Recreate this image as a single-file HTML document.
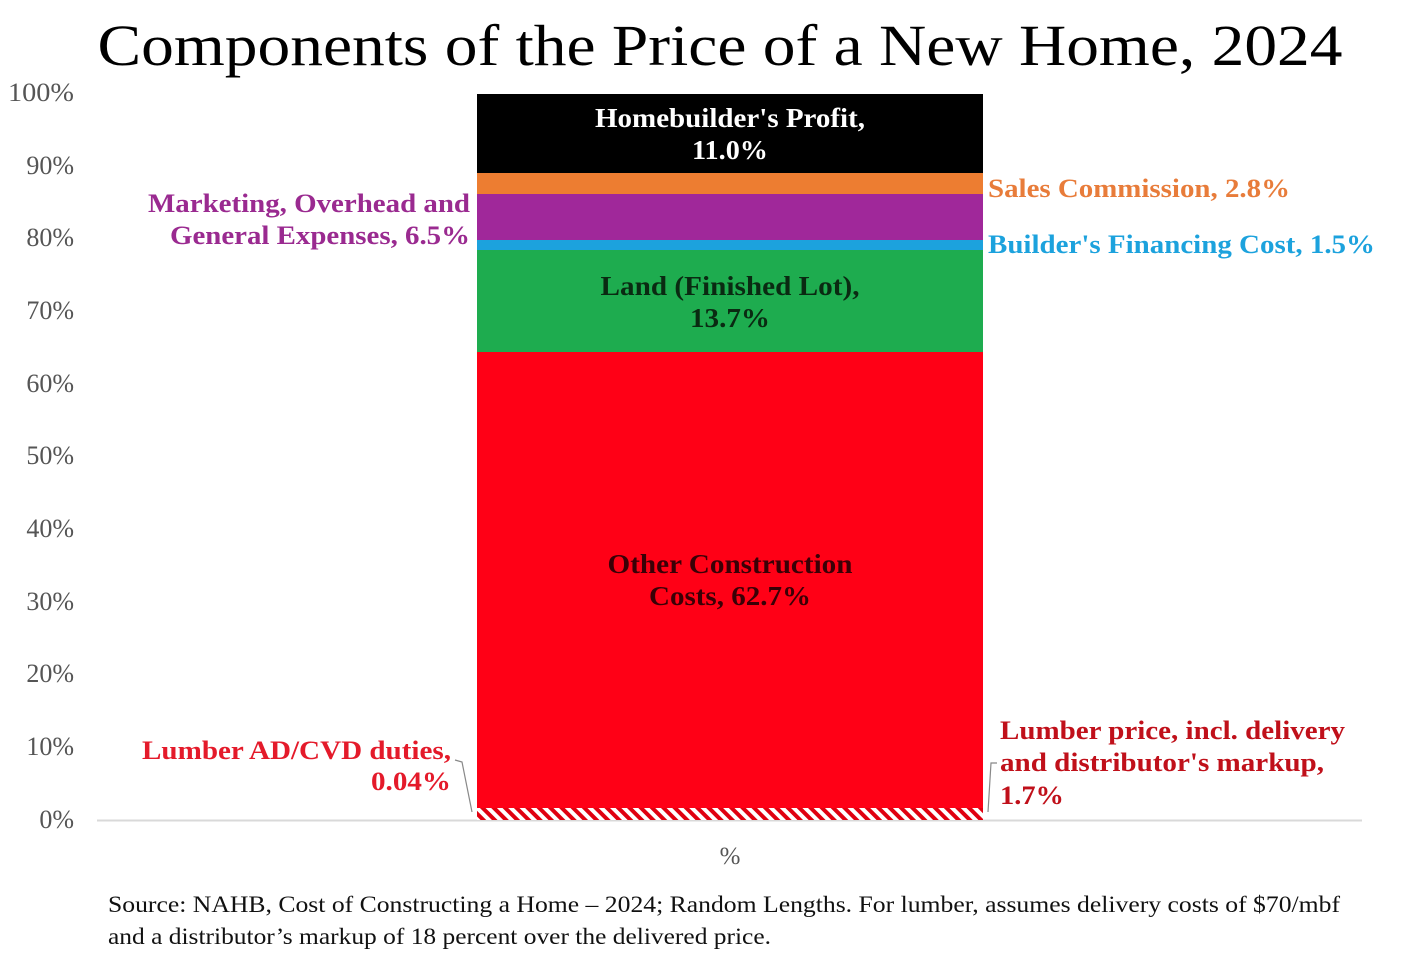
<!DOCTYPE html>
<html><head><meta charset="utf-8"><style>html,body{margin:0;padding:0;background:#fff}</style></head>
<body>
<svg width="1423" height="965" viewBox="0 0 1423 965" xmlns="http://www.w3.org/2000/svg" font-family="'Liberation Serif', serif">
<defs>
<pattern id="h" width="8" height="8" patternUnits="userSpaceOnUse" patternTransform="rotate(-45)">
<rect width="8" height="8" fill="#fff"/><rect width="4" height="8" fill="#e00010"/></pattern>
</defs>
<text x="720" y="65" font-size="58" text-anchor="middle" textLength="1245" lengthAdjust="spacingAndGlyphs" fill="#000">Components of the Price of a New Home, 2024</text>
<g font-size="26" fill="#555" text-anchor="end">
<text x="74" y="101" textLength="66" lengthAdjust="spacingAndGlyphs">100%</text><text x="74" y="174">90%</text><text x="74" y="246">80%</text>
<text x="74" y="319">70%</text><text x="74" y="392">60%</text><text x="74" y="464">50%</text>
<text x="74" y="537">40%</text><text x="74" y="610">30%</text><text x="74" y="682">20%</text>
<text x="74" y="755">10%</text><text x="74" y="828">0%</text>
</g>
<line x1="97" y1="820.5" x2="1362" y2="820.5" stroke="#d9d9d9" stroke-width="2"/>
<rect x="477" y="94" width="506" height="79" fill="#000"/>
<rect x="477" y="173" width="506" height="21" fill="#ed7d31"/>
<rect x="477" y="194" width="506" height="46" fill="#a0289a"/>
<rect x="477" y="240" width="506" height="10" fill="#1ca2dd"/>
<rect x="477" y="250" width="506" height="102" fill="#1eac4f"/>
<rect x="477" y="352" width="506" height="456" fill="#ff0016"/>
<rect x="477" y="808" width="506" height="12" fill="url(#h)"/>
<g font-weight="bold" font-size="27" text-anchor="middle" lengthAdjust="spacingAndGlyphs">
<text x="730" y="127" fill="#fff" textLength="270" lengthAdjust="spacingAndGlyphs">Homebuilder's Profit,</text>
<text x="730" y="159" fill="#fff" textLength="76" lengthAdjust="spacingAndGlyphs">11.0%</text>
<text x="730" y="295" fill="#0a2a12" textLength="259" lengthAdjust="spacingAndGlyphs">Land (Finished Lot),</text>
<text x="730" y="327" fill="#0a2a12" textLength="80" lengthAdjust="spacingAndGlyphs">13.7%</text>
<text x="730" y="573" fill="#3a0006" textLength="245" lengthAdjust="spacingAndGlyphs">Other Construction</text>
<text x="730" y="605" fill="#3a0006" textLength="162" lengthAdjust="spacingAndGlyphs">Costs, 62.7%</text>
</g>
<g font-weight="bold" font-size="26">
<text x="470" y="212" text-anchor="end" fill="#9a2a90" textLength="322" lengthAdjust="spacingAndGlyphs">Marketing, Overhead and</text>
<text x="470" y="244" text-anchor="end" fill="#9a2a90" textLength="300" lengthAdjust="spacingAndGlyphs">General Expenses, 6.5%</text>
<text x="988" y="197" fill="#e87c3a" textLength="302" lengthAdjust="spacingAndGlyphs">Sales Commission, 2.8%</text>
<text x="988" y="253" fill="#1ca2dd" textLength="387" lengthAdjust="spacingAndGlyphs">Builder's Financing Cost, 1.5%</text>
<text x="451" y="759" text-anchor="end" fill="#e41a2a" textLength="309" lengthAdjust="spacingAndGlyphs">Lumber AD/CVD duties,</text>
<text x="451" y="790" text-anchor="end" fill="#e41a2a" textLength="80" lengthAdjust="spacingAndGlyphs">0.04%</text>
<text x="1000" y="739" fill="#c0101a" textLength="345" lengthAdjust="spacingAndGlyphs">Lumber price, incl. delivery</text>
<text x="1000" y="771" fill="#c0101a" textLength="324" lengthAdjust="spacingAndGlyphs">and distributor's markup,</text>
<text x="1000" y="804" fill="#c0101a" textLength="64" lengthAdjust="spacingAndGlyphs">1.7%</text>
</g>
<path d="M455 760 L462 762 L472 812" fill="none" stroke="#888" stroke-width="1.2"/>
<path d="M997 763 L991 763 L988 812" fill="none" stroke="#888" stroke-width="1.2"/>
<text x="730" y="864" font-size="25" fill="#555" text-anchor="middle">%</text>
<g font-size="23" fill="#111">
<text x="108" y="912" textLength="1232" lengthAdjust="spacingAndGlyphs">Source: NAHB, Cost of Constructing a Home – 2024; Random Lengths.  For lumber, assumes delivery costs of $70/mbf</text>
<text x="108" y="944" textLength="663" lengthAdjust="spacingAndGlyphs">and a distributor’s markup of 18 percent over the delivered price.</text>
</g>
</svg>
</body></html>
